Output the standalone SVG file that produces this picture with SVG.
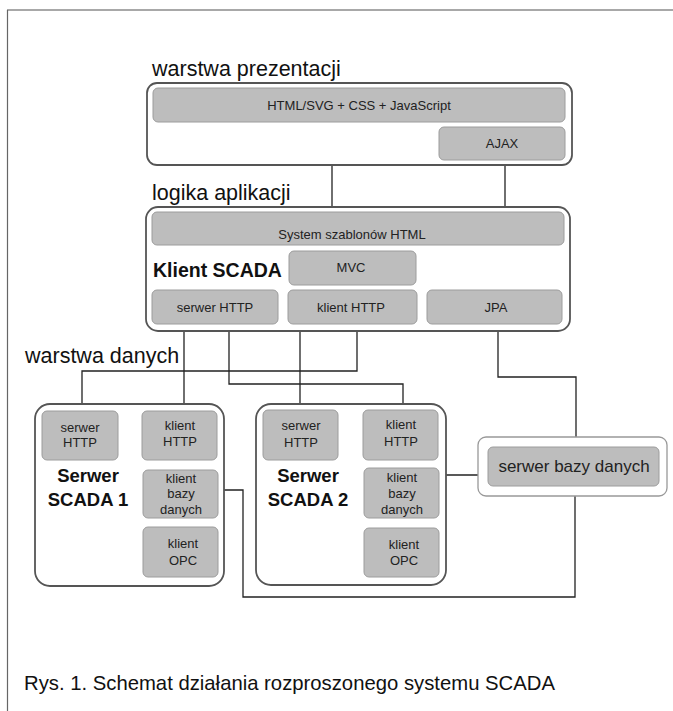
<svg xmlns="http://www.w3.org/2000/svg" width="673" height="711" viewBox="0 0 673 711">
<style>
.outer{fill:#fff;stroke:#555;stroke-width:1.8}
.outerL{fill:#fff;stroke:#999;stroke-width:1.3}
.box{fill:#bdbdbd;stroke:#9c9c9c;stroke-width:1}
.t{font-family:"Liberation Sans",Arial,sans-serif;font-size:13px;fill:#222;text-anchor:middle}
.lbl{font-family:"Liberation Sans",Arial,sans-serif;font-size:21.5px;fill:#111}
.bold{font-family:"Liberation Sans",Arial,sans-serif;font-weight:bold;fill:#111}
.conn{fill:none;stroke:#222;stroke-width:1.3}
</style>
<rect width="673" height="711" fill="#fff"/>
<g id="frame">
<line x1="7" y1="10" x2="673" y2="10" stroke="#a8a8a8" stroke-width="2"/>
<line x1="7.5" y1="10" x2="7.5" y2="711" stroke="#666" stroke-width="1.2"/>
</g>
<g id="labels">
<text class="lbl" x="152" y="76">warstwa prezentacji</text>
<text class="lbl" x="152" y="200">logika aplikacji</text>
<text class="lbl" x="25" y="363">warstwa danych</text>
<text class="lbl" x="24" y="690" style="font-size:20.3px">Rys. 1. Schemat działania rozproszonego systemu SCADA</text>
</g>
<g id="connectors">
<path class="conn" d="M332,122 V212"/>
<path class="conn" d="M505,160 V212"/>
<path class="conn" d="M184,324 V411"/>
<path class="conn" d="M357,324 V371 H82 V411"/>
<path class="conn" d="M229,324 V384 H403 V410"/>
<path class="conn" d="M300,324 V410"/>
<path class="conn" d="M498,324 V377 H576 V437"/>
<path class="conn" d="M439,475 H488"/>
<path class="conn" d="M575,486 V597 H243 V490 H218"/>
</g>
<g id="warstwa-prezentacji">
<rect class="outer" x="147" y="83" width="425" height="82" rx="10"/>
<g id="html-svg"><rect class="box" x="153" y="88" width="412" height="34" rx="5"/><text class="t" x="359" y="110">HTML/SVG + CSS + JavaScript</text></g>
<g id="ajax"><rect class="box" x="439" y="127" width="126" height="33" rx="5"/><text class="t" x="502" y="148">AJAX</text></g>
</g>
<g id="klient-scada">
<rect class="outer" x="146" y="207" width="424" height="124" rx="12"/>
<g id="szablony"><rect class="box" x="152" y="212" width="412" height="33" rx="5"/><text class="t" x="352" y="239">System szablonów HTML</text></g>
<text class="bold" x="153" y="277" style="font-size:19.5px">Klient SCADA</text>
<g id="mvc"><rect class="box" x="289" y="251" width="127" height="34" rx="5"/><text class="t" x="351" y="272">MVC</text></g>
<g id="k-serwer-http"><rect class="box" x="152" y="290" width="126" height="34" rx="5"/><text class="t" x="215" y="312">serwer HTTP</text></g>
<g id="k-klient-http"><rect class="box" x="288" y="290" width="129" height="34" rx="5"/><text class="t" x="351" y="312">klient HTTP</text></g>
<g id="jpa"><rect class="box" x="427" y="290" width="135" height="34" rx="5"/><text class="t" x="496" y="312">JPA</text></g>
</g>
<g id="serwer-scada-1">
<rect class="outer" x="35" y="404" width="189" height="182" rx="15"/>
<g id="s1-serwer-http"><rect class="box" x="42" y="411" width="76" height="49" rx="5"/><text class="t" x="80" y="432">serwer</text><text class="t" x="80" y="447">HTTP</text></g>
<g id="s1-klient-http"><rect class="box" x="142" y="411" width="75" height="49" rx="5"/><text class="t" x="180" y="430">klient</text><text class="t" x="180" y="446">HTTP</text></g>
<g id="s1-klient-bazy"><rect class="box" x="143" y="470" width="75" height="48" rx="5"/><text class="t" x="181" y="483">klient</text><text class="t" x="181" y="498">bazy</text><text class="t" x="181" y="514">danych</text></g>
<g id="s1-klient-opc"><rect class="box" x="143" y="527" width="75" height="50" rx="5"/><text class="t" x="183" y="548">klient</text><text class="t" x="183" y="565">OPC</text></g>
<text class="bold" x="88" y="482" text-anchor="middle" style="font-size:18.5px">Serwer</text>
<text class="bold" x="88" y="506" text-anchor="middle" style="font-size:18.5px">SCADA 1</text>
</g>
<g id="serwer-scada-2">
<rect class="outer" x="256" y="404" width="190" height="181" rx="15"/>
<g id="s2-serwer-http"><rect class="box" x="263" y="410" width="75" height="50" rx="5"/><text class="t" x="301" y="430">serwer</text><text class="t" x="301" y="447">HTTP</text></g>
<g id="s2-klient-http"><rect class="box" x="363" y="410" width="75" height="50" rx="5"/><text class="t" x="401" y="429">klient</text><text class="t" x="401" y="446">HTTP</text></g>
<g id="s2-klient-bazy"><rect class="box" x="364" y="468" width="75" height="50" rx="5"/><text class="t" x="402" y="482">klient</text><text class="t" x="402" y="498">bazy</text><text class="t" x="402" y="514">danych</text></g>
<g id="s2-klient-opc"><rect class="box" x="364" y="528" width="75" height="49" rx="5"/><text class="t" x="404" y="549">klient</text><text class="t" x="404" y="565">OPC</text></g>
<text class="bold" x="308" y="482" text-anchor="middle" style="font-size:18.5px">Serwer</text>
<text class="bold" x="308" y="506" text-anchor="middle" style="font-size:18.5px">SCADA 2</text>
</g>
<g id="serwer-bazy-danych">
<rect class="outerL" x="478" y="437" width="189" height="59" rx="8"/>
<rect class="box" x="488" y="447" width="171" height="39" rx="5"/>
<text class="t" x="574" y="472" style="font-size:17px">serwer bazy danych</text>
</g>
</svg>
